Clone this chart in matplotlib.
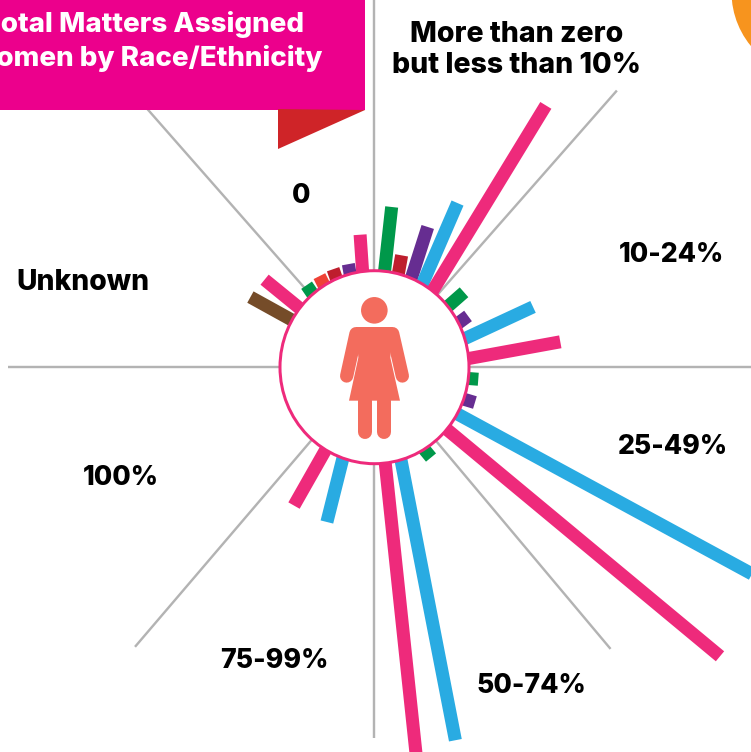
import matplotlib
matplotlib.use('Agg')
import matplotlib.pyplot as plt
from matplotlib.patches import Circle, Ellipse, Polygon, Rectangle
import numpy as np

W, H = 751, 752
CX, CY = 374, 367
R_IN = 95
R_MAX = 500
PX = 72 / 100

# one bar per race/ethnicity group, angles clockwise from north, reach from centre
bar_group = ['green', 'red', 'purple', 'blue', 'pink',
             'green', 'purple', 'blue', 'pink',
             'green', 'purple', 'blue', 'pink',
             'green', 'blue', 'pink',
             'blue', 'pink',
             'brown', 'pink',
             'green', 'orange', 'red', 'purple', 'pink']
bar_base = [6.3, 14.8, 23, 30.5, 37.8,
            50.7, 62.7, 72.8, 85,
            97, 109.8, 119.4, 130.6,
            148.9, 163.6, 173.3,
            199, 210.3,
            299.8, 308.3,
            319.8, 328.4, 336.8, 345.5, 353.1]
bar_angle = [6.3, 13.9, 21, 27, 33.3,
             50.3, 61.5, 69.3, 82.3,
             96.7, 109.4, 118.7, 129.9,
             147.8, 167.7, 173.8,
             196.9, 210,
             299.5, 308.6,
             320.5, 329, 337.3, 346, 354]
bar_reach = [161, 115, 150, 184, 313,
             117, 107, 170, 188,
             105, 107, 440, 451,
             107, 382, 395,
             162, 160,
             142, 140,
             106, 106, 106, 106, 133]

spoke_angle = [0, 41.3, 90, 140, 180, 220.5, 270, 318.7]
spoke_reach = [368, 368, 380, 368, 371, 368, 366, 368]

group_colors = {'green': '#00984a', 'red': '#be1e2d', 'purple': '#662d91',
                'blue': '#29abe2', 'pink': '#ee2a7b', 'brown': '#754c29',
                'orange': '#ef4136'}

sector_labels = ['More than zero\nbut less than 10%', '10-24%', '25-49%', '50-74%',
                 '75-99%', '100%', 'Unknown', '0']
label_x = [517, 672, 673, 531, 274, 121, 83, 301]
label_y = [50, 255, 447, 686, 661, 478, 283, 196]
label_size = [20.5, 19.2, 19.2, 19.2, 19.2, 19.2, 20.3, 19.2]
banner_lines = ['Total Matters Assigned', 'Women by Race/Ethnicity']

FONT = 'Inter'

fig = plt.figure(figsize=(W / 100, H / 100), dpi=100, facecolor='white')

ax = fig.add_axes([(CX - R_MAX) / W, (H - CY - R_MAX) / H, 2 * R_MAX / W, 2 * R_MAX / H],
                  projection='polar')
ax.set_theta_zero_location('N')
ax.set_theta_direction(-1)
ax.set_ylim(0, R_MAX)
ax.axis('off')

for a, r in zip(spoke_angle, spoke_reach):
    ax.plot(np.radians([a, a]), [0, r], color='#b3b3b3', lw=2.4 * PX, solid_capstyle='butt', zorder=1)
for g, a0, a, r in zip(bar_group, bar_base, bar_angle, bar_reach):
    ax.plot(np.radians([a0, a]), [R_IN - 2, r], color=group_colors[g], lw=13 * PX,
            solid_capstyle='butt', zorder=2)

# overlay in pixel coordinates for the decoration and labels
top = fig.add_axes([0, 0, 1, 1], zorder=5)
top.set_xlim(0, W)
top.set_ylim(H, 0)
top.axis('off')
top.patch.set_alpha(0)

top.add_patch(Rectangle((-5, -5), 370, 115, color='#ec008c', lw=0))
top.add_patch(Polygon([(278, 109), (365, 110), (278, 149)], color='#cf2428', lw=0))
top.add_patch(Circle((816.5, -8), 85, color='#f7941e', lw=0))
top.add_patch(Ellipse((374.5, 367.2), 189, 193, facecolor='white', edgecolor='#ee2a7b', lw=3 * PX))


def zx(v):
    return 230 + v / 3


def zy(v):
    return 190 + v / 3


# woman icon
icon = '#f36c5d'
top.add_patch(Circle((zx(433), zy(361)), 13.3, color=icon, lw=0))
torso = [(378, 411), (488, 411), (481, 503), (510, 632), (357, 632), (385, 503)]
top.add_patch(Polygon([(zx(a), zy(b)) for a, b in torso], color=icon, lw=0))
for x0, y0, x1, y1, w in [(378, 431, 350, 558, 13.3), (488, 431, 517, 558, 13.3),
                          (406, 632, 406, 727, 14), (461, 632, 461, 727, 14)]:
    top.plot([zx(x0), zx(x1)], [zy(y0), zy(y1)], color=icon, lw=w * PX, solid_capstyle='round')

for txt, x, y, s in zip(sector_labels, label_x, label_y, label_size):
    top.text(x, y, txt, ha='center', va='center', fontsize=s, fontweight=800,
             family=FONT, color='black', linespacing=1.2)

top.text(304, 24, banner_lines[0], ha='right', va='center', fontsize=20, fontweight=800,
         family=FONT, color='white')
top.text(322, 58, banner_lines[1], ha='right', va='center', fontsize=20, fontweight=800,
         family=FONT, color='white')

fig.savefig('out.png', dpi=100)
